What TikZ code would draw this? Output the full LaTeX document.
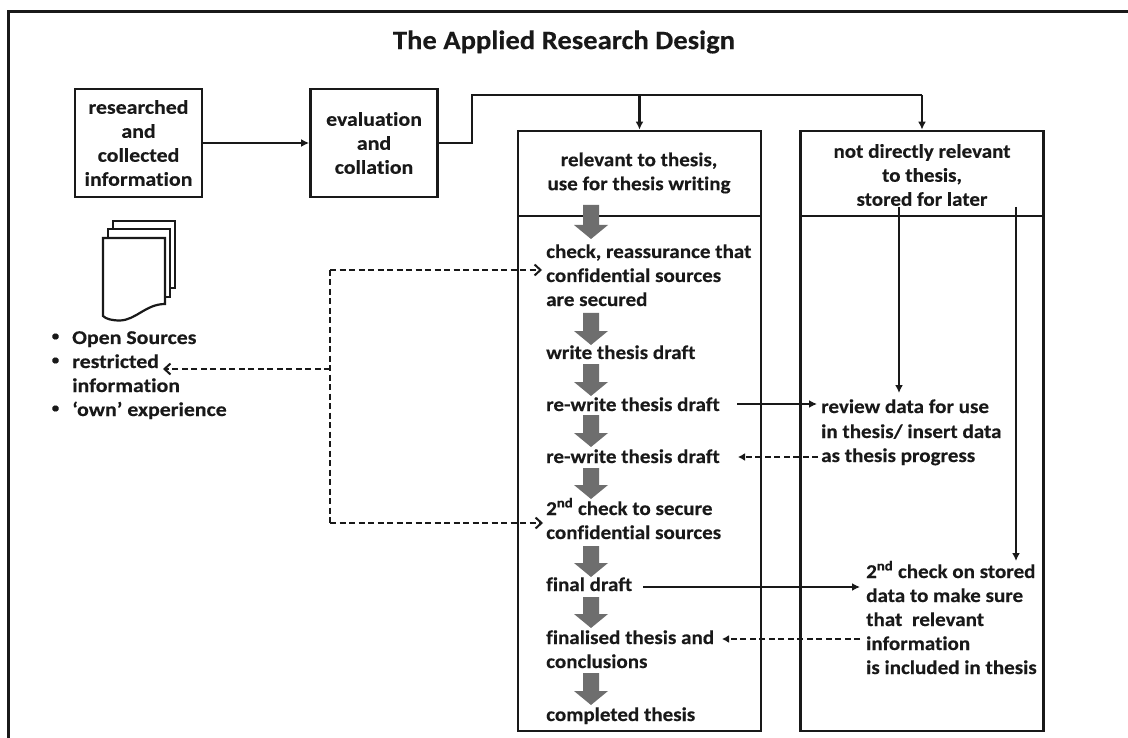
\documentclass[tikz,border=0pt]{standalone}
\usepackage{fontspec}
\setmainfont{Carlito}[BoldFont=Carlito Bold]
\newfontfamily\wide{Carlito Bold}[FakeStretch=1.08,FakeBold=0.3,Ligatures=NoCommon]
\newfontfamily\wider{Carlito Bold}[FakeStretch=1.12,FakeBold=0.3,Ligatures=NoCommon]
\usetikzlibrary{arrows.meta,calc}
\definecolor{arrowgray}{RGB}{110,110,110}
\tikzset{
 x=1pt,y=-1pt,
 ink/.style={line width=2.8pt,draw=black!90},
 plainbox/.style={ink,fill=white},
 flow/.style={line width=2.4pt,draw=black!90,-{Latex[length=8pt,width=8pt]}},
 dashflow/.style={line width=2pt,draw=black!90,dash pattern=on 6pt off 3.5pt,-{Straight Barb[length=6pt,width=11pt]}},
 dashsolid/.style={line width=2pt,draw=black!90,dash pattern=on 6pt off 3.5pt,-{Latex[length=7pt,width=8pt]}},
 dashline/.style={line width=2pt,draw=black!90,dash pattern=on 6pt off 3.5pt},
 txt/.style={font=\wide\fontsize{19.5}{24}\selectfont,text=black!90,inner sep=0pt},
 txtw/.style={font=\wider\fontsize{19.5}{24}\selectfont,text=black!90,inner sep=0pt},
 leftline/.style={txt,anchor=base west},
 leftwide/.style={txtw,anchor=base west},
 ctr/.style={txt,align=center,anchor=center}
}
\newcommand{\greydown}[2]{\fill[arrowgray] (583,#1) -- (599,#1) -- (599,#2-14) -- (608,#2-14) -- (591,#2) -- (574,#2-14) -- (583,#2-14) -- cycle;}
\begin{document}
\begin{tikzpicture}
\useasboundingbox (0,0) rectangle (1128,738);
\fill[white] (0,0) rectangle (1128,738);
\draw[line width=3pt,draw=black!90] (8,738) -- (8,11.5) -- (1128,11.5);
\node[txt,font=\wide\fontsize{26.5}{30}\selectfont] (title) at (564,42) {The Applied Research Design};
\node[plainbox,minimum width=127pt,minimum height=108pt,inner sep=0pt,align=center,txtw] (b1) at (138.5,143) {researched\\and\\collected\\information};
\node[plainbox,minimum width=127pt,minimum height=108pt,inner sep=0pt,align=center,txtw] (b2) at (374,143) {evaluation\\and\\collation};
\node[plainbox,minimum width=243pt,minimum height=85pt,inner sep=0pt] (h1) at (639.5,173.5) {};
\node[plainbox,minimum width=243pt,minimum height=515pt,inner sep=0pt] (m1) at (639.5,473.5) {};
\node[plainbox,minimum width=243pt,minimum height=85pt,inner sep=0pt] (h2) at (922,173.5) {};
\node[plainbox,minimum width=243pt,minimum height=515pt,inner sep=0pt] (m2) at (922,473.5) {};
\node[ctr] (h1t) at (639,173) {relevant to thesis,\\use for thesis writing};
\node[ctr] (h2t) at (922,175) {not directly relevant\\to thesis,\\stored for later};
\draw[flow] (b1.east) -- (b2.west);
\coordinate (turn) at (472,95);
\draw[line width=2.4pt,draw=black!90] (b2.east) -| (turn) -- (h2.north |- turn);
\draw[flow] (h1.north |- turn) -- (h1.north);
\draw[flow] (h2.north |- turn) -- (h2.north);
% grey arrows
\greydown{205}{239}\greydown{313}{345}\greydown{364}{396}\greydown{415}{447}
\greydown{468}{499}\greydown{546}{577}\greydown{597}{628}\greydown{673}{705}
% left column
\node[leftline] (t1) at (546,258) {check, reassurance that};
\node[leftline] (t1b) at (546,282) {confidential sources};
\node[leftline] (t1c) at (546,306) {are secured};
\node[leftline] (t2) at (546,359) {write thesis draft};
\node[leftline] (t3) at (546,411) {re-write thesis draft};
\node[leftline] (t4) at (546,463) {re-write thesis draft};
\node[leftline] (t5) at (546,515) {2\textsuperscript{nd} check to secure};
\node[leftline] (t5b) at (546,539) {confidential sources};
\node[leftline] (t6) at (546,591) {final draft};
\node[leftline] (t7) at (546,644) {finalised thesis and};
\node[leftline] (t7b) at (546,668) {conclusions};
\node[leftline] (t8) at (546,721) {completed thesis};
% right column
\node[leftline] (r1) at (821,413) {review data for use};
\node[leftline] (r1b) at (821,438) {in thesis/ insert data};
\node[leftline] (r1c) at (821,462) {as thesis progress};
\node[leftline] (r2) at (866,578) {2\textsuperscript{nd} check on stored};
\node[leftline] (r2b) at (866,602) {data to make sure};
\node[leftline] (r2c) at (866,626) {that\hspace{5pt} relevant};
\node[leftline] (r2d) at (866,650) {information};
\node[leftline] (r2e) at (866,674) {is included in thesis};
% connectors in right box
\coordinate (s1) at (899,207);
\coordinate (s2) at (1016,207);
\coordinate (e1) at (899,393);
\coordinate (e2) at (1016,561);
\draw[flow] (s1) -- (e1);
\draw[flow] (s2) -- (e2);
\coordinate (a1) at (737,404); \coordinate (a2) at (817,404);
\draw[flow] (a1) -- (a2);
\coordinate (a3) at (818,457); \coordinate (a4) at (738,457);
\draw[dashsolid] (a3) -- (a4);
\coordinate (a5) at (643,587); \coordinate (a6) at (860,587);
\draw[flow] (a5) -- (a6);
\coordinate (a7) at (860,639); \coordinate (a8) at (722,639);
\draw[dashsolid] (a7) -- (a8);
% dashed tree
\coordinate (d1) at (330,270); \coordinate (d2) at (330,523); \coordinate (d3) at (330,369);
\coordinate (dt) at (542,270); \coordinate (db) at (543,523); \coordinate (dl) at (163,369);
\draw[dashflow] (d1) -- (dt);
\draw[dashflow] (d2) -- (db);
\draw[dashline] (d1) -- (d2);
\draw[dashflow] (d3) -- (dl);
% document stack
\draw[line width=2.2pt,draw=black!90,fill=white] (113,221) rectangle (175,288);
\draw[line width=2.2pt,draw=black!90,fill=white] (108,229) rectangle (170,297);
\draw[line width=2.2pt,draw=black!90,fill=white] (103,238) -- (165,238) -- (165,304) .. controls (146,304) and (136,320) .. (120,320.5) .. controls (112,320.5) and (106,319) .. (103,316) -- cycle;
% bullets
\node[txt,font=\wide\fontsize{14}{24}\selectfont] (bu1) at (55.5,337) {•};
\node[txt,font=\wide\fontsize{14}{24}\selectfont] (bu2) at (55.5,361) {•};
\node[txt,font=\wide\fontsize{14}{24}\selectfont] (bu3) at (55.5,409) {•};
\node[leftwide] (l1) at (72,344) {Open Sources};
\node[leftwide] (l2) at (72,368) {restricted};
\node[leftwide] (l2b) at (72,392) {information};
\node[leftwide] (l3) at (72,416) {‘own’ experience};
\end{tikzpicture}
\end{document}
